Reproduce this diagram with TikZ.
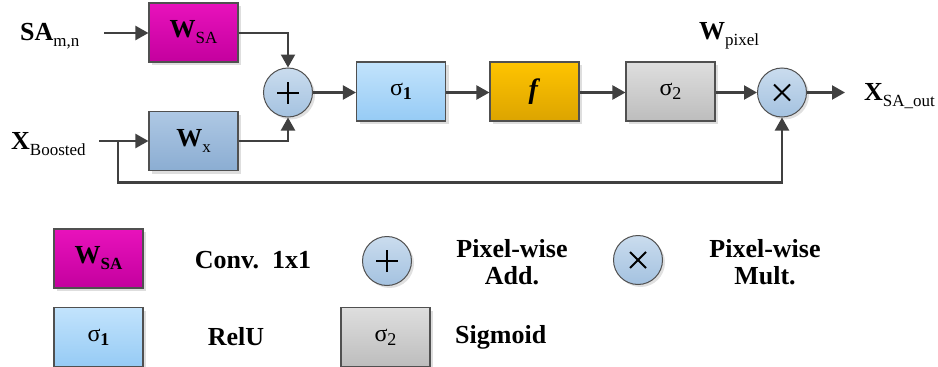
\documentclass[tikz,border=0pt]{standalone}
\usepackage{fontspec}
\setmainfont{Liberation Serif}
\usetikzlibrary{arrows.meta,shadows}
\definecolor{lc}{HTML}{404040}
\definecolor{bc}{HTML}{505050}
\definecolor{magT}{HTML}{E812BC}
\definecolor{magB}{HTML}{C4009E}
\definecolor{wxT}{HTML}{AEC8E4}
\definecolor{wxB}{HTML}{8BADD2}
\definecolor{sgT}{HTML}{C2E3FC}
\definecolor{sgB}{HTML}{96CBF5}
\definecolor{fT}{HTML}{FFC400}
\definecolor{fB}{HTML}{DCA400}
\definecolor{grT}{HTML}{DEDEDE}
\definecolor{grB}{HTML}{BDBDBD}
\definecolor{ciT}{HTML}{CADCEE}
\definecolor{ciB}{HTML}{A4C2E0}
\newcommand\bigtxt{\fontsize{26}{31}\selectfont}
\newcommand\sigtxt{\fontsize{24}{29}\selectfont}
\newcommand\subtxt[1]{\raisebox{-6pt}{\fontsize{17}{20}\selectfont #1}}
\newcommand\subsig[1]{\raisebox{-4pt}{\fontsize{18}{21}\selectfont #1}}
\begin{document}
\begin{tikzpicture}[x=1pt,y=-1pt,
  conn/.style={draw=lc, line width=2.2pt, -{Triangle[length=13pt,width=14pt]}},
  wire/.style={draw=lc, line width=2.2pt},
  blk/.style={draw=bc, line width=1.1pt, minimum width=89pt, minimum height=59pt, inner sep=0pt,
    drop shadow={shadow xshift=3pt, shadow yshift=-3pt, fill=black!13, opacity=1}},
  magbox/.style={blk, top color=magT, bottom color=magB},
  wxbox/.style={blk, top color=wxT, bottom color=wxB},
  sgbox/.style={blk, top color=sgT, bottom color=sgB},
  fbox/.style={blk, top color=fT, bottom color=fB},
  grbox/.style={blk, top color=grT, bottom color=grB},
  opc/.style={circle, draw=bc, line width=1pt, minimum size=49pt, inner sep=0pt, top color=ciT, bottom color=ciB,
    drop shadow={shadow xshift=2.5pt, shadow yshift=-2.5pt, fill=black!12, opacity=1}},
  sym/.style={draw=black, line width=2pt},
  lbl/.style={inner sep=0pt, font=\bigtxt\bfseries, align=center}
]
\useasboundingbox (0,0) rectangle (938,367);

% ---- main diagram ----
\node[anchor=base west, inner sep=0pt] (salbl) at (20,40) {\bigtxt\textbf{SA}\subtxt{m,n}};
\node[anchor=base west, inner sep=0pt] (xlbl) at (11,149) {\bigtxt\textbf{X}\subtxt{Boosted}};
\node[anchor=base west, inner sep=0pt] (wplbl) at (699,39) {\bigtxt\textbf{W}\subtxt{pixel}};
\node[anchor=base west, inner sep=0pt] (xolbl) at (864,100) {\bigtxt\textbf{X}\subtxt{SA\_out}};

\node[magbox] (wsa) at (193.5,32.5) {\bigtxt\textbf{W}\subtxt{SA}};
\node[wxbox] (wx) at (193.5,141) {\bigtxt\textbf{W}\subtxt{x}};
\node[opc] (plus) at (288,92.5) {};
\node[sgbox] (s1) at (401,91.5) {\sigtxt σ\subsig{\textbf{1}}};
\node[fbox] (f) at (534.5,91.5) {\fontsize{28}{32}\selectfont\textbf{\textit{f}}};
\node[grbox] (s2) at (670.5,91.5) {\sigtxt σ\subsig{2}};
\node[opc] (mul) at (782,92.5) {};

\draw[sym] ([xshift=-11pt]plus.center) -- ([xshift=11pt]plus.center);
\draw[sym] ([yshift=-11pt]plus.center) -- ([yshift=11pt]plus.center);
\draw[sym] ([shift={(-8pt,-8pt)}]mul.center) -- ([shift={(8pt,8pt)}]mul.center);
\draw[sym] ([shift={(-8pt,8pt)}]mul.center) -- ([shift={(8pt,-8pt)}]mul.center);

\coordinate (sain) at (104,33);
\coordinate (xin) at (99,141);
\coordinate (br) at (118,141);
\coordinate (xout) at (845,92.5);

\draw[conn] (sain) -- (wsa.west |- sain);
\draw[conn] (xin) -- (wx.west |- xin);
\draw[conn] (wsa.east |- sain) -| (plus.north);
\draw[conn] (wx.east |- xin) -| (plus.south);
\draw[conn] (plus.east) -- (s1.west |- plus.east);
\draw[conn] (s1.east |- plus.east) -- (f.west |- plus.east);
\draw[conn] (f.east |- plus.east) -- (s2.west |- plus.east);
\draw[conn] (s2.east |- plus.east) -- (mul.west);
\draw[conn] (mul.east) -- (xout);
\draw[conn] (br) -- ++(0,41.5) -| (mul.south);

% ---- legend ----
\node[magbox] (lwsa) at (98.5,258.5) {\bigtxt\textbf{W}\subtxt{\textbf{SA}}};
\node[lbl] (tconv) at (253,260) {Conv.\ \ 1x1};
\node[opc] (lplus) at (387,261) {};
\node[lbl] (tadd) at (512,262) {Pixel-wise\\[-4pt]Add.};
\node[opc] (lmul) at (638,260) {};
\node[lbl] (tmul) at (765,262) {Pixel-wise\\[-4pt]Mult.};
\node[sgbox] (ls1) at (98.5,337) {\sigtxt σ\subsig{\textbf{1}}};
\node[lbl] (trelu) at (236,337) {RelU};
\node[grbox] (ls2) at (385.5,337) {\sigtxt σ\subsig{2}};
\node[lbl, anchor=west] (tsig) at (455,337) {Sigmoid};

\draw[sym] ([xshift=-11pt]lplus.center) -- ([xshift=11pt]lplus.center);
\draw[sym] ([yshift=-11pt]lplus.center) -- ([yshift=11pt]lplus.center);
\draw[sym] ([shift={(-8pt,-8pt)}]lmul.center) -- ([shift={(8pt,8pt)}]lmul.center);
\draw[sym] ([shift={(-8pt,8pt)}]lmul.center) -- ([shift={(8pt,-8pt)}]lmul.center);
\end{tikzpicture}
\end{document}
